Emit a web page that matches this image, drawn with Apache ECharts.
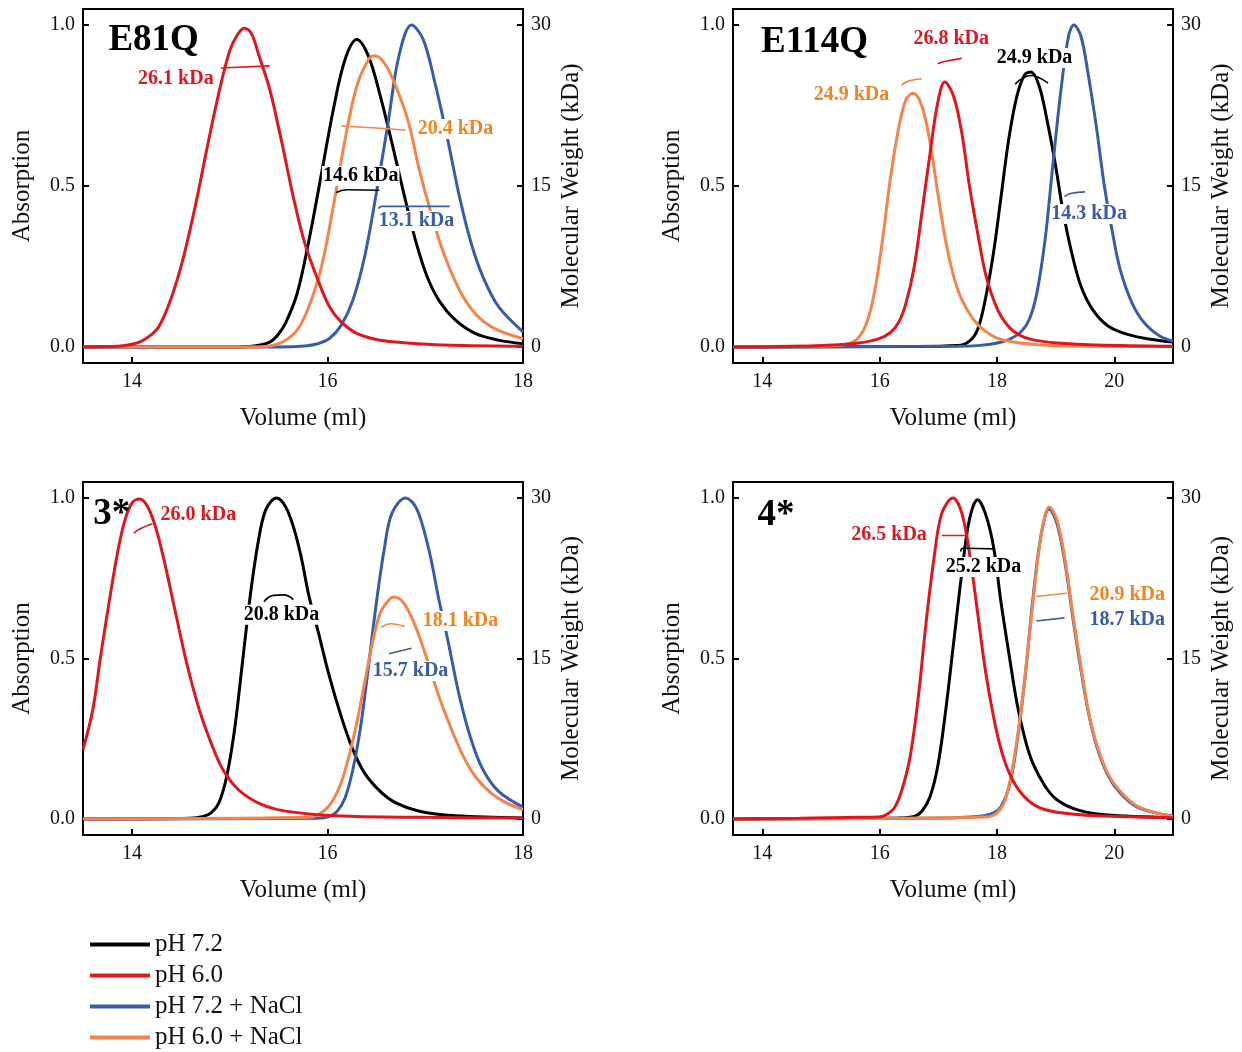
<!DOCTYPE html>
<html><head><meta charset="utf-8">
<script src="https://cdn.jsdelivr.net/npm/echarts@6/dist/echarts.min.js"></script>
<style>html,body{margin:0;padding:0;background:#fff}#c{width:1242px;height:1052px}</style>
</head><body><div id="c"></div>
<script>
// ---------- categories / labels ----------
const seriesNames = ['pH 7.2', 'pH 6.0', 'pH 7.2 + NaCl', 'pH 6.0 + NaCl'];
const panelTitles = ['E81Q', 'E114Q', '3*', '4*'];
const xTicksA = [14, 16, 18];
const xTicksB = [14, 16, 18, 20];
const yTicksLeft = [0, 0.5, 1.0];
const yTicksRight = [0, 15, 30];

// ---------- Panel 1: E81Q  [volume ml, absorption] ----------
const e81q_ph72 = [[13.5,0],[15.0,0],[15.25,0.003],[15.41,0.015],[15.49,0.036],[15.57,0.073],[15.69,0.166],[15.81,0.33],[15.94,0.54],[16.06,0.737],[16.18,0.893],[16.3,0.955],[16.42,0.903],[16.54,0.78],[16.66,0.633],[16.78,0.478],[16.9,0.332],[17.02,0.218],[17.15,0.14],[17.31,0.083],[17.51,0.042],[17.75,0.021],[18.0,0.01]];
const e81q_ph60 = [[13.5,0],[13.7,0.001],[13.88,0.003],[14.0,0.008],[14.1,0.018],[14.2,0.038],[14.28,0.065],[14.4,0.15],[14.52,0.27],[14.65,0.44],[14.77,0.62],[14.89,0.79],[15.0,0.92],[15.08,0.97],[15.15,0.99],[15.22,0.975],[15.3,0.905],[15.41,0.8],[15.53,0.64],[15.65,0.467],[15.77,0.32],[15.9,0.21],[16.02,0.125],[16.14,0.078],[16.3,0.042],[16.5,0.023],[16.7,0.015],[17.1,0.007],[18.0,0.002]];
const e81q_ph72nacl = [[13.5,0],[15.5,0],[15.77,0.003],[15.9,0.01],[16.02,0.026],[16.14,0.067],[16.26,0.145],[16.38,0.28],[16.5,0.478],[16.62,0.696],[16.73,0.903],[16.86,1.0],[16.98,0.955],[17.1,0.82],[17.23,0.644],[17.35,0.467],[17.47,0.322],[17.59,0.218],[17.75,0.125],[18.0,0.047]];
const e81q_ph60nacl = [[13.5,0],[15.3,0],[15.45,0.005],[15.57,0.02],[15.69,0.052],[15.81,0.125],[15.94,0.25],[16.06,0.436],[16.18,0.644],[16.3,0.81],[16.42,0.893],[16.48,0.905],[16.58,0.883],[16.7,0.81],[16.83,0.696],[16.94,0.55],[17.06,0.415],[17.19,0.29],[17.35,0.177],[17.51,0.104],[17.71,0.057],[18.0,0.026]];
// molecular weight traces [volume, kDa]
const e81q_mw_ph72 = [[16.09,14.4],[16.2,14.65],[16.53,14.6]];
const e81q_mw_ph60 = [[14.91,26.0],[15.41,26.2]];
const e81q_mw_ph72nacl = [[16.52,12.9],[16.56,13.1],[17.25,13.1]];
const e81q_mw_ph60nacl = [[16.14,20.6],[16.5,20.4],[16.8,20.2]];
const e81q_mwText = ['14.6 kDa', '26.1 kDa', '13.1 kDa', '20.4 kDa'];
const e81q_mwTextPos = [[16.34,0.531],[14.45,0.832],[16.91,0.391],[17.31,0.677]];

// ---------- Panel 2: E114Q ----------
const e114q_ph72 = [[13.5,0],[16.5,0.001],[17.33,0.004],[17.53,0.018],[17.67,0.054],[17.8,0.147],[17.94,0.292],[18.07,0.468],[18.2,0.645],[18.34,0.78],[18.47,0.845],[18.58,0.854],[18.72,0.81],[18.85,0.707],[18.99,0.572],[19.12,0.427],[19.26,0.303],[19.43,0.189],[19.63,0.116],[19.9,0.064],[20.24,0.038],[20.64,0.023],[21.0,0.015]];
const e114q_ph60 = [[13.5,0],[14.63,0.002],[15.3,0.007],[15.64,0.012],[15.98,0.025],[16.18,0.044],[16.32,0.075],[16.45,0.137],[16.59,0.25],[16.72,0.417],[16.86,0.603],[16.99,0.759],[17.11,0.823],[17.26,0.779],[17.4,0.665],[17.53,0.5],[17.67,0.354],[17.8,0.23],[17.94,0.147],[18.07,0.095],[18.28,0.049],[18.55,0.025],[19.02,0.012],[19.7,0.006],[21.0,0.002]];
const e114q_ph72nacl = [[13.5,0],[17.33,0.002],[17.67,0.004],[17.94,0.01],[18.2,0.023],[18.41,0.047],[18.55,0.085],[18.68,0.168],[18.82,0.334],[18.95,0.562],[19.09,0.798],[19.22,0.966],[19.31,1.0],[19.43,0.966],[19.56,0.841],[19.7,0.676],[19.83,0.5],[19.97,0.354],[20.1,0.24],[20.3,0.137],[20.51,0.075],[20.78,0.033],[21.0,0.018]];
const e114q_ph60nacl = [[13.5,0],[14.97,0.003],[15.3,0.004],[15.5,0.012],[15.64,0.028],[15.78,0.075],[15.91,0.168],[16.05,0.334],[16.18,0.52],[16.32,0.676],[16.45,0.769],[16.57,0.788],[16.72,0.748],[16.86,0.634],[16.99,0.479],[17.12,0.334],[17.26,0.22],[17.4,0.147],[17.6,0.085],[17.8,0.049],[18.07,0.023],[18.68,0.007],[19.5,0.002],[21.0,0.001]];
const e114q_mw_ph72 = [[18.31,24.5],[18.45,25.1],[18.58,25.3],[18.72,25.1],[18.87,24.6]];
const e114q_mw_ph60 = [[16.99,26.4],[17.1,26.6],[17.4,26.9]];
const e114q_mw_ph72nacl = [[19.15,14.0],[19.25,14.3],[19.5,14.45]];
const e114q_mw_ph60nacl = [[16.37,24.4],[16.5,24.8],[16.72,25.0]];
const e114q_mwText = ['24.9 kDa', '26.8 kDa', '14.3 kDa', '24.9 kDa'];
const e114q_mwTextPos = [[18.64,0.898],[17.22,0.957],[19.57,0.413],[15.52,0.783]];

// ---------- Panel 3: 3* ----------
const p3_ph72 = [[13.5,0],[14.6,0.002],[14.73,0.008],[14.81,0.019],[14.89,0.05],[14.97,0.133],[15.05,0.278],[15.13,0.486],[15.21,0.694],[15.29,0.86],[15.37,0.964],[15.48,1.0],[15.57,0.974],[15.65,0.912],[15.73,0.818],[15.81,0.696],[15.9,0.59],[16.02,0.444],[16.14,0.32],[16.26,0.216],[16.38,0.143],[16.54,0.086],[16.7,0.05],[16.94,0.024],[17.31,0.01],[18.0,0.003]];
const p3_ph60 = [[13.5,0.216],[13.6,0.34],[13.68,0.507],[13.76,0.662],[13.84,0.808],[13.92,0.922],[14.0,0.984],[14.08,0.997],[14.16,0.974],[14.24,0.912],[14.32,0.818],[14.44,0.652],[14.56,0.486],[14.69,0.34],[14.81,0.237],[14.93,0.154],[15.09,0.091],[15.29,0.05],[15.49,0.029],[15.9,0.013],[16.3,0.008],[17.0,0.005],[18.0,0.003]];
const p3_ph72nacl = [[13.5,0],[15.9,0.002],[16.02,0.008],[16.1,0.024],[16.18,0.065],[16.26,0.154],[16.34,0.289],[16.42,0.476],[16.5,0.673],[16.58,0.839],[16.66,0.953],[16.8,1.0],[16.9,0.974],[16.98,0.907],[17.06,0.808],[17.14,0.683],[17.23,0.559],[17.35,0.382],[17.47,0.247],[17.59,0.154],[17.75,0.086],[18.0,0.037]];
const p3_ph60nacl = [[13.5,0],[15.81,0.005],[15.9,0.013],[15.98,0.029],[16.06,0.06],[16.14,0.112],[16.22,0.195],[16.3,0.3],[16.38,0.424],[16.46,0.548],[16.54,0.642],[16.63,0.683],[16.68,0.692],[16.78,0.673],[16.9,0.6],[17.02,0.496],[17.14,0.382],[17.27,0.278],[17.39,0.195],[17.51,0.133],[17.67,0.081],[17.83,0.05],[18.0,0.029]];
const p3_mw_ph72 = [[15.35,20.3],[15.45,20.9],[15.55,20.95],[15.65,20.5]];
const p3_mw_ph60 = [[14.02,26.7],[14.08,27.1],[14.21,27.6]];
const p3_mw_ph72nacl = [[16.63,15.45],[16.7,15.6],[16.86,15.95]];
const p3_mw_ph60nacl = [[16.55,17.9],[16.65,18.25],[16.79,18.0]];
const p3_mwText = ['20.8 kDa', '26.0 kDa', '15.7 kDa', '18.1 kDa'];
const p3_mwTextPos = [[15.53,0.636],[14.68,0.947],[16.85,0.461],[17.36,0.617]];

// ---------- Panel 4: 4* ----------
const p4_ph72 = [[13.5,0],[16.32,0.003],[16.59,0.008],[16.72,0.024],[16.86,0.07],[16.99,0.164],[17.12,0.33],[17.26,0.548],[17.4,0.766],[17.53,0.933],[17.67,0.995],[17.8,0.953],[17.94,0.849],[18.07,0.673],[18.21,0.507],[18.34,0.361],[18.48,0.247],[18.61,0.174],[18.82,0.102],[19.02,0.06],[19.36,0.029],[19.84,0.013],[21.0,0.004]];
const p4_ph60 = [[13.5,0],[14.63,0.002],[15.64,0.005],[15.98,0.006],[16.11,0.013],[16.25,0.034],[16.38,0.091],[16.52,0.195],[16.66,0.382],[16.79,0.61],[16.93,0.818],[17.06,0.953],[17.25,1.0],[17.4,0.953],[17.53,0.829],[17.67,0.642],[17.8,0.465],[17.94,0.32],[18.07,0.216],[18.21,0.143],[18.41,0.081],[18.68,0.039],[19.02,0.021],[19.7,0.01],[21.0,0.004]];
const p4_ph72nacl = [[13.5,0],[16.99,0.003],[17.67,0.008],[17.94,0.019],[18.07,0.039],[18.21,0.102],[18.34,0.237],[18.48,0.444],[18.61,0.683],[18.75,0.883],[18.89,0.966],[19.02,0.922],[19.16,0.797],[19.29,0.631],[19.43,0.465],[19.56,0.33],[19.7,0.226],[19.9,0.133],[20.1,0.081],[20.37,0.039],[20.71,0.019],[21.0,0.01]];
const p4_ph60nacl = [[13.5,0],[17.8,0.006],[18.0,0.019],[18.14,0.06],[18.27,0.164],[18.41,0.34],[18.55,0.569],[18.68,0.787],[18.78,0.912],[18.89,0.972],[19.02,0.933],[19.16,0.808],[19.29,0.642],[19.43,0.476],[19.56,0.335],[19.7,0.232],[19.9,0.138],[20.1,0.086],[20.37,0.042],[20.71,0.019],[21.0,0.008]];
const p4_mw_ph72 = [[17.38,25.0],[17.42,25.3],[17.94,25.25]];
const p4_mw_ph60 = [[17.06,26.5],[17.5,26.5]];
const p4_mw_ph72nacl = [[18.67,18.5],[19.15,18.8]];
const p4_mw_ph60nacl = [[18.67,20.8],[19.19,21.1]];
const p4_mwText = ['25.2 kDa', '26.5 kDa', '18.7 kDa', '20.9 kDa'];
const p4_mwTextPos = [[17.77,0.785],[16.16,0.885],[20.22,0.62],[20.22,0.698]];

const panelTitlePos = [[13.755,0.953],[13.97,0.947],[13.6,0.95],[13.91,0.947]];

// ---------- assembly ----------
const FONT = '"Liberation Serif","Times New Roman",serif';
const lineColors = ['#000000', '#e0161e', '#3a5ca8', '#f2844c'];
const textColors = ['#000000', '#e0161e', '#3a5ca8', '#f08420'];

const panels = [
  {curves:[e81q_ph72,e81q_ph60,e81q_ph72nacl,e81q_ph60nacl], mw:[e81q_mw_ph72,e81q_mw_ph60,e81q_mw_ph72nacl,e81q_mw_ph60nacl], txt:e81q_mwText, txtPos:e81q_mwTextPos, xmax:18, ticks:xTicksA},
  {curves:[e114q_ph72,e114q_ph60,e114q_ph72nacl,e114q_ph60nacl], mw:[e114q_mw_ph72,e114q_mw_ph60,e114q_mw_ph72nacl,e114q_mw_ph60nacl], txt:e114q_mwText, txtPos:e114q_mwTextPos, xmax:21, ticks:xTicksB},
  {curves:[p3_ph72,p3_ph60,p3_ph72nacl,p3_ph60nacl], mw:[p3_mw_ph72,p3_mw_ph60,p3_mw_ph72nacl,p3_mw_ph60nacl], txt:p3_mwText, txtPos:p3_mwTextPos, xmax:18, ticks:xTicksA},
  {curves:[p4_ph72,p4_ph60,p4_ph72nacl,p4_ph60nacl], mw:[p4_mw_ph72,p4_mw_ph60,p4_mw_ph72nacl,p4_mw_ph60nacl], txt:p4_mwText, txtPos:p4_mwTextPos, xmax:21, ticks:xTicksB}
];

const gridPos = [
  {left:83, top:9, width:440, height:354},
  {left:733, top:9, width:440, height:354},
  {left:83, top:482, width:440, height:353},
  {left:733, top:482, width:440, height:353}
];

const grid = [], xAxis = [], yAxis = [], series = [];
const axisLine = {show:true, onZero:false, lineStyle:{color:'#000', width:2}};
const tickStyle = {inside:true, length:6, lineStyle:{color:'#000', width:2}};
const labelStyle = {color:'#111', fontFamily:FONT, fontSize:20};
const nameStyle = {color:'#111', fontFamily:FONT, fontSize:25};

panels.forEach((p, i) => {
  grid.push(Object.assign({show:true, borderColor:'#000', borderWidth:2, backgroundColor:'transparent'}, gridPos[i]));
  xAxis.push({type:'value', gridIndex:i, min:13.5, max:p.xmax, splitLine:{show:false},
    axisLine, axisTick:Object.assign({customValues:p.ticks}, tickStyle),
    axisLabel:Object.assign({customValues:p.ticks, margin:9}, labelStyle),
    name:'Volume (ml)', nameLocation:'middle', nameGap:43, nameTextStyle:nameStyle});
  yAxis.push({type:'value', gridIndex:i, min:-0.05, max:1.05, position:'left', splitLine:{show:false},
    axisLine, axisTick:Object.assign({customValues:yTicksLeft}, tickStyle),
    axisLabel:Object.assign({customValues:yTicksLeft, margin:8, formatter:v=>v.toFixed(1)}, labelStyle),
    name:'Absorption', nameLocation:'middle', nameGap:48, nameTextStyle:nameStyle});
  yAxis.push({type:'value', gridIndex:i, min:-1.5, max:31.5, position:'right', splitLine:{show:false},
    axisLine, axisTick:Object.assign({customValues:yTicksRight}, tickStyle),
    axisLabel:Object.assign({customValues:yTicksRight, margin:8}, labelStyle),
    name:'Molecular Weight (kDa)', nameLocation:'middle', nameGap:36, nameRotate:90, nameTextStyle:nameStyle});
  const order = [0, 2, 3, 1]; // draw red on top
  order.forEach((k, z) => {
    series.push({name:seriesNames[k], type:'line', xAxisIndex:i, yAxisIndex:2*i, data:p.curves[k],
      smooth:0.35, showSymbol:false, symbol:'none', z:2+z,
      lineStyle:{color:lineColors[k], width:3}, itemStyle:{color:lineColors[k]}});
  });
  for (let k = 0; k < 4; k++) {
    series.push({type:'line', xAxisIndex:i, yAxisIndex:2*i+1, data:p.mw[k], smooth:0.5, showSymbol:false, symbol:'none', z:8,
      lineStyle:{color:lineColors[k], width:1.6}, silent:true});
    series.push({type:'scatter', xAxisIndex:i, yAxisIndex:2*i, data:[p.txtPos[k]], symbolSize:1, z:9, silent:true,
      itemStyle:{color:'transparent', opacity:1},
      label:{show:true, position:'inside', formatter:p.txt[k], color:textColors[k], opacity:1, backgroundColor:'#fff', padding:[0,1],
        fontFamily:FONT, fontWeight:'bold', fontSize:20}});
  }
  series.push({type:'scatter', xAxisIndex:i, yAxisIndex:2*i, data:[panelTitlePos[i]], symbolSize:1, z:9, silent:true,
    itemStyle:{color:'transparent', opacity:1},
    label:{show:true, position:'right', distance:0, formatter:panelTitles[i], color:'#000', opacity:1, fontFamily:FONT, fontWeight:'bold', fontSize:37}});
});

const chart = echarts.init(document.getElementById('c'), null, {renderer:'canvas'});
chart.setOption({
  animation:false,
  backgroundColor:'#fff',
  grid, xAxis, yAxis, series,
  legend:{data:seriesNames, orient:'vertical', left:90, top:932, padding:0, itemWidth:60, itemHeight:4, itemGap:6, icon:'rect',
    textStyle:{fontFamily:FONT, fontSize:25, color:'#111', lineHeight:25}}
});
</script></body></html>
